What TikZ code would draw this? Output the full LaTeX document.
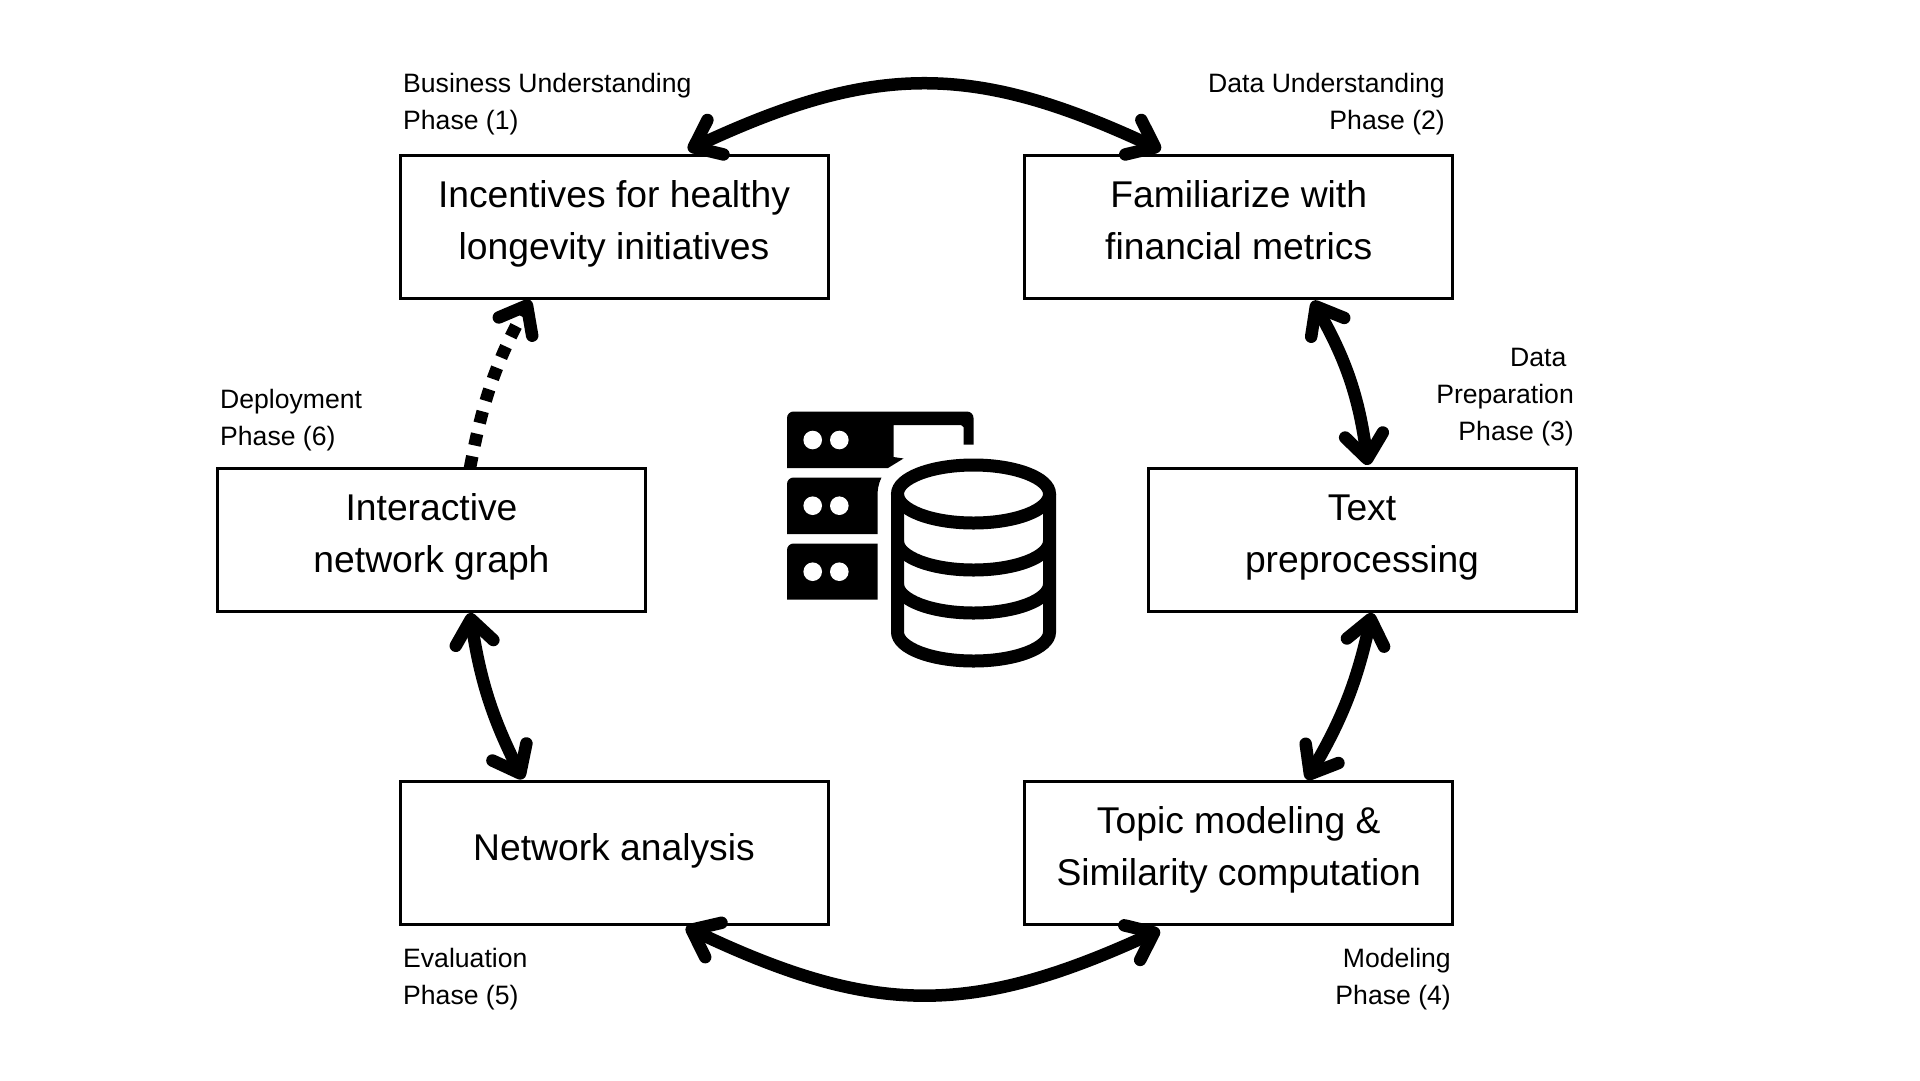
\documentclass[tikz,border=0pt]{standalone}
\usepackage{fontspec}
\setmainfont{Liberation Sans}
\usetikzlibrary{arrows.meta}

\begin{document}
\begin{tikzpicture}[x=1pt, y=-1pt,
    phasebox/.style={draw, line width=3pt, outer sep=0pt, inner sep=0pt, minimum width=428pt, minimum height=143pt, align=center, text height=65pt, text depth=0pt, font=\fontsize{37.25}{52}\selectfont},
    phasetag/.style={inner sep=0pt, font=\fontsize{26.6}{37}\selectfont},
    cyclearrow/.style={line width=12.5pt, {Straight Barb[length=24pt,width=38pt,round]}-{Straight Barb[length=24pt,width=38pt,round]}},
    deployarrow/.style={line width=12.5pt, dash pattern=on 12pt off 11pt, -{Straight Barb[length=24pt,width=38pt,round]}},
    cylband/.style={line width=13pt, line cap=butt}]
      \useasboundingbox (0,0) rectangle (1920,1080);
      \node[phasebox] (incentives) at (614, 226.5) {Incentives for healthy\\longevity initiatives};
      \node[phasebox] (familiarize) at (1238.75, 226.5) {Familiarize with\\financial metrics};
      \node[phasebox] (graph) at (431.5, 539.5) {Interactive\\network graph};
      \node[phasebox] (text) at (1362, 539.5) {Text\\preprocessing};
      \node[phasebox, text height=15.5pt] (network) at (614, 852.5) {Network analysis};
      \node[phasebox] (topic) at (1238.75, 852.5) {Topic modeling \&\\Similarity computation};
      \node[phasetag, anchor=north west, align=left] (tag1) at (403, 72.7) {Business Understanding\\Phase (1)};
      \node[phasetag, anchor=north east, align=right] (tag2) at (1445, 72.7) {Data Understanding\\Phase (2)};
      \node[phasetag, anchor=north east, align=right] (tag3) at (1574, 347.5) {Data~\mbox{}\\Preparation\\Phase (3)};
      \node[phasetag, anchor=north west, align=left] (tag4) at (220, 388.7) {Deployment\\Phase (6)};
      \node[phasetag, anchor=north west, align=left] (tag5) at (403, 948) {Evaluation\\Phase (5)};
      \node[phasetag, anchor=north east, align=right] (tag6) at (1451, 948) {Modeling\\Phase (4)};
      \draw[cyclearrow] ([xshift=74pt, yshift=5pt]incentives.north) to[bend left=25, looseness=1.12] ([xshift=-78pt, yshift=5pt]familiarize.north);
      \draw[cyclearrow] ([xshift=74pt, yshift=-3pt]familiarize.south) to[bend left=11] ([xshift=6pt, yshift=3pt]text.north);
      \draw[cyclearrow] ([xshift=10pt, yshift=-2pt]text.south) to[bend left=9] ([xshift=68pt, yshift=1.5pt]topic.north);
      \draw[cyclearrow] ([xshift=72pt, yshift=-3pt]network.south) to[bend right=25, looseness=1.12] ([xshift=-79pt, yshift=-6pt]topic.south);
      \draw[cyclearrow] ([xshift=38.5pt, yshift=-2pt]graph.south) to[bend right=9] ([xshift=-91pt, yshift=2pt]network.north);
      \draw[deployarrow] ([xshift=38.5pt]graph.north) to[bend left=9] ([xshift=-84pt, yshift=-2pt]incentives.south);
      \fill (787,468) -- (787,418) arc[start angle=180, end angle=270, radius=6.5] -- (967,411.5) arc[start angle=270, end angle=360, radius=6.5] -- (973.5,444.5) -- (963.5,444.5) -- (963.5,427) -- (961,425) -- (893.5,425) -- (893.5,457) -- (903.5,458.5) -- (888,468) -- cycle;
      \fill (787,534) -- (787,484) arc[start angle=180, end angle=270, radius=6.5] -- (881.5,477.5) .. controls (878,485) and (877.5,490) .. (877.5,497) -- (877.5,534) -- cycle;
      \fill (787,599.5) -- (787,550) arc[start angle=180, end angle=270, radius=6.5] -- (877.5,543.5) -- (877.5,599.5) -- cycle;
      \foreach \rowy in {440, 505.7, 571.7} {
        \fill[white] (812.7,\rowy) circle (9.3pt);
        \fill[white] (839.3,\rowy) circle (9.3pt);
      }
      \draw[cylband] (973.5,494) ellipse[x radius=76, y radius=29];
      \draw[cylband] (897.5,494) -- (897.5,632) arc[start angle=180, end angle=0, x radius=76, y radius=29] -- (1049.5,494);
      \draw[cylband] (897.5,541) arc[start angle=180, end angle=0, x radius=76, y radius=29];
      \draw[cylband] (897.5,584) arc[start angle=180, end angle=0, x radius=76, y radius=29];
    \end{tikzpicture}
\end{document}
